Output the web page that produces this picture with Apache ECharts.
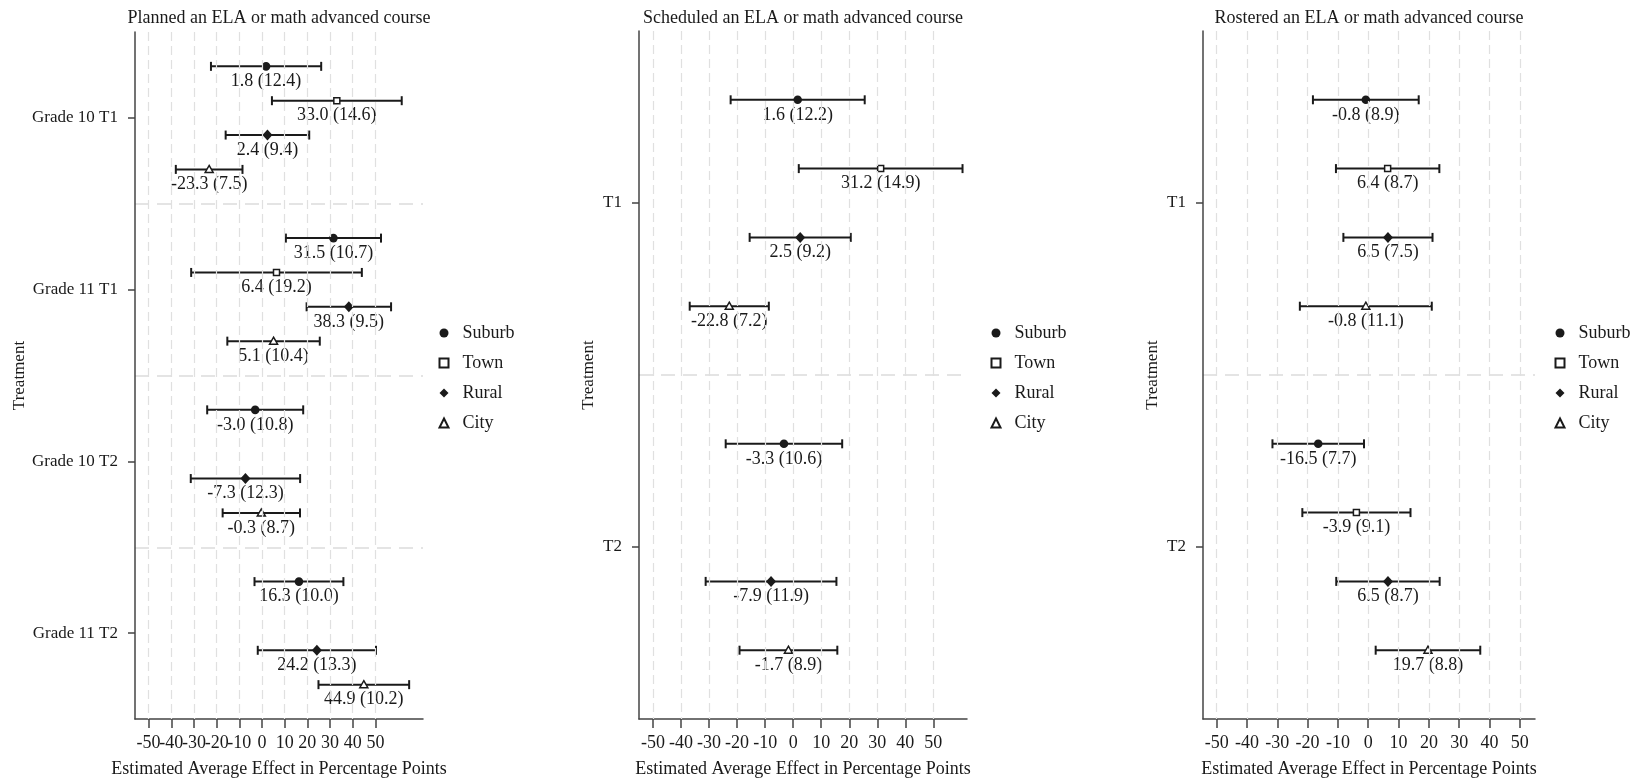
<!DOCTYPE html>
<html><head><meta charset="utf-8">
<script src="https://cdn.jsdelivr.net/npm/echarts@6/dist/echarts.min.js"></script>
<style>html,body{margin:0;padding:0;background:#fff}#c{width:1633px;height:783px}</style>
</head><body><div id="c"></div>
<script>
// ---------- data ----------
const locales = ['Suburb', 'Town', 'Rural', 'City'];
const xTicks = [-50, -40, -30, -20, -10, 0, 10, 20, 30, 40, 50];
const axisTitleX = 'Estimated Average Effect in Percentage Points';
const axisTitleY = 'Treatment';

// Panel 1: [estimate, standard error]
const plannedTitle = 'Planned an ELA or math advanced course';
const plannedCats = ['Grade 10 T1', 'Grade 11 T1', 'Grade 10 T2', 'Grade 11 T2'];
const plannedSuburb = [[1.8, 12.4], [31.5, 10.7], [-3.0, 10.8], [16.3, 10.0]];
const plannedTown   = [[33.0, 14.6], [6.4, 19.2], null, null];
const plannedRural  = [[2.4, 9.4], [38.3, 9.5], [-7.3, 12.3], [24.2, 13.3]];
const plannedCity   = [[-23.3, 7.5], [5.1, 10.4], [-0.3, 8.7], [44.9, 10.2]];

// Panel 2
const scheduledTitle = 'Scheduled an ELA or math advanced course';
const scheduledCats = ['T1', 'T2'];
const scheduledSuburb = [[1.6, 12.2], [-3.3, 10.6]];
const scheduledTown   = [[31.2, 14.9], null];
const scheduledRural  = [[2.5, 9.2], [-7.9, 11.9]];
const scheduledCity   = [[-22.8, 7.2], [-1.7, 8.9]];

// Panel 3
const rosteredTitle = 'Rostered an ELA or math advanced course';
const rosteredCats = ['T1', 'T2'];
const rosteredSuburb = [[-0.8, 8.9], [-16.5, 7.7]];
const rosteredTown   = [[6.4, 8.7], [-3.9, 9.1]];
const rosteredRural  = [[6.5, 7.5], [6.5, 8.7]];
const rosteredCity   = [[-0.8, 11.1], [19.7, 8.8]];

// ---------- layout ----------
const FONT = '"Liberation Serif", "Times New Roman", serif';
const INK = '#1a1a1a';
const panels = [
  { title: plannedTitle, cats: plannedCats, series: [plannedSuburb, plannedTown, plannedRural, plannedCity],
    grid: { left: 135, top: 32, width: 288, height: 690 }, xMin: -56, xMax: 71, yGap: 100, legendX: 443 },
  { title: scheduledTitle, cats: scheduledCats, series: [scheduledSuburb, scheduledTown, scheduledRural, scheduledCity],
    grid: { left: 639, top: 31, width: 328, height: 691 }, xMin: -55, xMax: 62, yGap: 42, legendX: 995 },
  { title: rosteredTitle, cats: rosteredCats, series: [rosteredSuburb, rosteredTown, rosteredRural, rosteredCity],
    grid: { left: 1203, top: 31, width: 332, height: 691 }, xMin: -54.5, xMax: 55, yGap: 42, legendX: 1559 }
];

function makeRender(si) {
  return function (params, api) {
    const est = api.value(0), cat = api.value(1), lo = api.value(2), hi = api.value(3), se = api.value(4);
    const band = api.size([0, 1])[1];
    const c = api.coord([est, cat]);
    const x = c[0];
    const y = c[1] + (si - 1.5) * 0.2 * band;
    const xl = api.coord([lo, cat])[0];
    const xh = api.coord([hi, cat])[0];
    const ls = { stroke: INK, lineWidth: 2 };
    const children = [
      { type: 'line', shape: { x1: xl, y1: y, x2: xh, y2: y }, style: ls },
      { type: 'line', shape: { x1: xl, y1: y - 4.5, x2: xl, y2: y + 4.5 }, style: ls },
      { type: 'line', shape: { x1: xh, y1: y - 4.5, x2: xh, y2: y + 4.5 }, style: ls }
    ];
    if (si === 0) {
      children.push({ type: 'circle', shape: { cx: x, cy: y, r: 4.3 }, style: { fill: INK } });
    } else if (si === 1) {
      children.push({ type: 'rect', shape: { x: x - 3, y: y - 3, width: 6, height: 6 }, style: { fill: '#fff', stroke: INK, lineWidth: 1.5 } });
    } else if (si === 2) {
      children.push({ type: 'polygon', shape: { points: [[x, y - 5.5], [x + 5, y], [x, y + 5.5], [x - 5, y]] }, style: { fill: INK } });
    } else {
      children.push({ type: 'polygon', shape: { points: [[x, y - 4], [x + 4, y + 3], [x - 4, y + 3]] }, style: { fill: '#fff', stroke: INK, lineWidth: 1.5 } });
    }
    children.push({ type: 'text', x: x, y: y + 15, style: {
      text: est.toFixed(1) + ' (' + se.toFixed(1) + ')', align: 'center', verticalAlign: 'middle',
      font: '18px ' + FONT, fill: INK } });
    return { type: 'group', children: children };
  };
}

const option = { animation: false, backgroundColor: '#fff', title: [], grid: [], xAxis: [], yAxis: [], legend: [], series: [] };
const legendIcons = ['circle', 'emptyRect', 'diamond', 'emptyTriangle'];

panels.forEach((p, pi) => {
  option.grid.push(p.grid);
  option.title.push({ text: p.title, left: p.grid.left + p.grid.width / 2, top: 9, textAlign: 'center', padding: 0,
    textStyle: { fontFamily: FONT, fontSize: 18, fontWeight: 'normal', color: INK } });
  option.xAxis.push({
    type: 'value', gridIndex: pi, min: p.xMin, max: p.xMax,
    name: axisTitleX, nameLocation: 'middle', nameGap: 41,
    nameTextStyle: { fontFamily: FONT, fontSize: 18, color: INK },
    axisLine: { show: true, onZero: false, lineStyle: { color: '#444', width: 1.5 } },
    axisTick: { show: true, length: 9, customValues: xTicks, lineStyle: { color: '#444', width: 1.5 } },
    // axis ends carry empty labels so the tightly packed tick labels are all kept
    axisLabel: { customValues: [p.xMin].concat(xTicks, [p.xMax]), margin: 15, hideOverlap: false,
      formatter: v => (xTicks.indexOf(v) >= 0 ? String(v) : ''),
      fontFamily: FONT, fontSize: 18, color: INK },
    splitLine: { show: false }
  });
  option.yAxis.push({
    type: 'category', gridIndex: pi, data: p.cats, inverse: true,
    name: axisTitleY, nameLocation: 'middle', nameGap: p.yGap,
    nameTextStyle: { fontFamily: FONT, fontSize: 17, color: INK },
    axisLine: { show: true, onZero: false, lineStyle: { color: '#444', width: 1.5 } },
    axisTick: { show: true, alignWithLabel: true, interval: 0, length: 7, lineStyle: { color: '#444', width: 1.5 } },
    axisLabel: { interval: 0, margin: 17, fontFamily: FONT, fontSize: 17, color: INK },
    splitLine: { show: true, interval: 0, showMinLine: false, showMaxLine: false,
      lineStyle: { color: '#dcdcdc', width: 1.5, type: [14, 8] } }
  });
  option.legend.push({
    orient: 'vertical', left: p.legendX - 4.5, top: 324, itemWidth: 9, itemHeight: 9, itemGap: 12,
    selectedMode: false, padding: 0,
    textStyle: { fontFamily: FONT, fontSize: 18, color: INK, lineHeight: 18, padding: [0, 0, 0, 9] },
    data: locales.map((n, i) => ({ name: n, icon: legendIcons[i] }))
  });
  // vertical reference grid at the labelled ticks
  option.series.push({
    type: 'line', xAxisIndex: pi, yAxisIndex: pi, data: [], silent: true, z: 1,
    markLine: { silent: true, symbol: 'none', label: { show: false }, animation: false,
      lineStyle: { color: '#e0e0e0', width: 1.2, type: [9, 5] },
      data: xTicks.map(v => ({ xAxis: v })) }
  });
  p.series.forEach((arr, si) => {
    const data = [];
    arr.forEach((d, ci) => {
      if (d) data.push([d[0], ci, d[0] - 1.96 * d[1], d[0] + 1.96 * d[1], d[1]]);
    });
    option.series.push({
      type: 'custom', name: locales[si], xAxisIndex: pi, yAxisIndex: pi, z: 3,
      itemStyle: { color: INK }, encode: { x: 0, y: 1 },
      renderItem: makeRender(si), data: data, clip: false
    });
  });
});

const chart = echarts.init(document.getElementById('c'), null, { renderer: 'canvas' });
chart.setOption(option);
</script>
</body></html>
